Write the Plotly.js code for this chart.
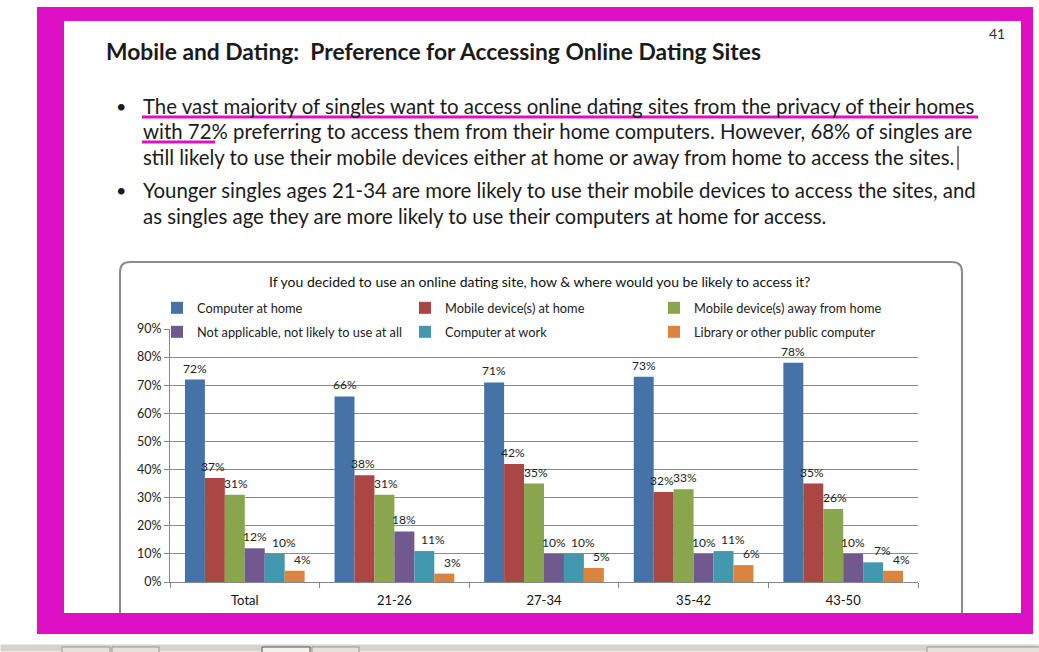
<!DOCTYPE html>
<html>
<head>
<meta charset="utf-8">
<script src="https://cdn.plot.ly/plotly-3.0.1.min.js"></script>
<style>
html,body{margin:0;padding:0;background:#fff;}
#chart{width:1039px;height:652px;}
</style>
</head>
<body>
<div id="chart"></div>
<script>
// ---- data ----
const categories = ['Total', '21-26', '27-34', '35-42', '43-50'];
const seriesNames = [
  'Computer at home',
  'Mobile device(s) at home',
  'Mobile device(s) away from home',
  'Not applicable, not likely to use at all',
  'Computer at work',
  'Library or other public computer'
];
const computerAtHome   = [72, 66, 71, 73, 78];
const mobileAtHome     = [37, 38, 42, 32, 35];
const mobileAwayHome   = [31, 31, 35, 33, 26];
const notApplicable    = [12, 18, 10, 10, 10];
const computerAtWork   = [10, 11, 10, 11, 7];
const libraryPublic    = [4, 3, 5, 6, 4];
const yTickValues = [0, 10, 20, 30, 40, 50, 60, 70, 80, 90];

const seriesValues = [computerAtHome, mobileAtHome, mobileAwayHome, notApplicable, computerAtWork, libraryPublic];
const seriesColors = ['#4572A7', '#AA4643', '#89A54E', '#71588F', '#4198AF', '#DB843D'];
// per-series horizontal nudge of the value labels (style, px)
const seriesLabelNudge = [0, -1.5, 1.5, 0, 9, 8];

// ---- pixel -> paper helpers ----
const W = 1039, H = 652, L = 170, R = 918, T = 329, B = 582;
const px = x => (x - L) / (R - L);
const py = y => (B - y) / (B - T);
const FONT = 'Lato, "Open Sans", sans-serif';
const MAG = '#DE10C6';
const BARGAP = 0.2;

function rect(x0, y0, x1, y1, fill, lineColor, lw, layer) {
  return {type: 'rect', xref: 'paper', yref: 'paper', layer: layer || 'above',
    x0: px(x0), x1: px(x1), y0: py(y1), y1: py(y0),
    fillcolor: fill, line: {width: lw || 0, color: lineColor || fill}};
}
function line(x0, y0, x1, y1, color, w) {
  return {type: 'line', xref: 'paper', yref: 'paper',
    x0: px(x0), x1: px(x1), y0: py(y0), y1: py(y1), line: {color: color, width: w}};
}
function ann(text, x, y, size, opts) {
  opts = opts || {};
  return Object.assign({text: text, xref: 'paper', yref: 'paper', x: px(x), y: py(y),
    xanchor: 'left', yanchor: 'middle', showarrow: false,
    font: {family: FONT, size: size, color: opts.color || '#1b1b1b'}}, opts.extra || {});
}
function roundedPath(x0, y0, x1, y1, r) {
  const P = (x, y) => px(x) + ',' + py(y);
  return 'M' + P(x0 + r, y0) + ' L' + P(x1 - r, y0) + ' Q' + P(x1, y0) + ' ' + P(x1, y0 + r) +
    ' L' + P(x1, y1 - r) + ' Q' + P(x1, y1) + ' ' + P(x1 - r, y1) +
    ' L' + P(x0 + r, y1) + ' Q' + P(x0, y1) + ' ' + P(x0, y1 - r) +
    ' L' + P(x0, y0 + r) + ' Q' + P(x0, y0) + ' ' + P(x0 + r, y0) + ' Z';
}

// ---- traces ----
const legendIds = ['legend', 'legend2', 'legend3', 'legend4', 'legend5', 'legend6'];
const traces = seriesValues.map((vals, i) => ({
  type: 'bar', x: categories, y: vals, name: seriesNames[i],
  marker: {color: seriesColors[i], line: {width: 0}},
  legend: legendIds[i], hoverinfo: 'skip', showlegend: true
}));

const legendPos = [[157, 308], [405, 308], [654, 308], [157, 332], [405, 332], [654, 332]];
const layout = {
  width: W, height: H, showlegend: true,
  margin: {l: L, r: W - R, t: T, b: H - B, pad: 0},
  paper_bgcolor: '#ffffff', plot_bgcolor: '#ffffff',
  font: {family: FONT, size: 12, color: '#222'},
  barmode: 'group', bargap: BARGAP, bargroupgap: 0,
  xaxis: {type: 'category', showgrid: false, showline: true, linecolor: '#868686', linewidth: 1,
    ticks: 'outside', tickson: 'boundaries', ticklen: 5, tickcolor: '#868686', ticklabelstandoff: 6,
    tickfont: {family: FONT, size: 13, color: '#111'}, fixedrange: true},
  yaxis: {range: [0, 90], tickvals: yTickValues, ticktext: yTickValues.map(v => v + '%'),
    showgrid: true, gridcolor: '#8a8a8a', gridwidth: 1, zeroline: false,
    showline: true, linecolor: '#868686', linewidth: 1, ticks: 'outside', ticklen: 5, tickcolor: '#868686',
    tickfont: {family: FONT, size: 12.5, color: '#222'}, fixedrange: true},
  shapes: [],
  annotations: []
};
legendIds.forEach((id, i) => {
  layout[id] = {x: px(legendPos[i][0]), y: py(legendPos[i][1]), xanchor: 'left', yanchor: 'middle',
    orientation: 'h', bgcolor: 'rgba(0,0,0,0)', borderwidth: 0,
    font: {family: FONT, size: 12.8, color: '#222'}, itemclick: false, itemdoubleclick: false};
});

const A = layout.annotations;
const nS = seriesValues.length;
const barPx = (R - L) / categories.length * (1 - BARGAP) / nS;
seriesValues.forEach((vals, i) => {
  vals.forEach((v, j) => {
    A.push({xref: 'x', yref: 'y', x: categories[j], y: v, text: v + '%', showarrow: false,
      xanchor: 'center', yanchor: 'bottom', yshift: 2,
      xshift: (i - (nS - 1) / 2) * barPx + seriesLabelNudge[i],
      font: {family: FONT, size: 12, color: '#222'}});
  });
});

const S = layout.shapes;
S.push({type: 'path', xref: 'paper', yref: 'paper', path: roundedPath(120, 262, 962, 625, 10),
  line: {color: '#8c8c8c', width: 2}, layer: 'below'});
S.push(rect(183, 325, 404, 339, '#ffffff'));
S.push(rect(431, 325, 548, 339, '#ffffff'));
S.push(rect(680, 325, 876, 339, '#ffffff'));
S.push(rect(37, 7, 1033, 21, MAG));
S.push(rect(37, 7, 64, 634, MAG));
S.push(rect(1021, 7, 1033, 634, MAG));
S.push(rect(37, 613, 1033, 634, MAG));
S.push(line(142, 117, 978, 117, MAG, 3));
S.push(line(142, 142, 215, 142, MAG, 3));
S.push(line(958, 146, 958, 170, '#000000', 1));
S.push(rect(0, 644, 1039, 652, '#d6d3cc', '#ffffff', 1));
S.push(rect(62, 647, 110, 653, '#e4e2dc', '#9a978f', 1));
S.push(rect(112, 647, 159, 653, '#e4e2dc', '#9a978f', 1));
S.push(rect(262, 647, 310, 653, '#f2f1ee', '#55534f', 1));
S.push(rect(312, 647, 359, 653, '#e4e2dc', '#9a978f', 1));
S.push(rect(927, 647, 1040, 653, '#e4e2dc', '#9a978f', 1));

A.push(ann('41', 987, 33, 14, {color: '#333'}));
A.push(ann('<b>Mobile and Dating:\u00a0 Preference for Accessing Online Dating Sites</b>', 104, 51, 22.8));
A.push(ann('\u2022', 114, 106, 18));
A.push(ann('\u2022', 114, 190, 18));
const bulletLines = [
  ['The vast majority of singles want to access online dating sites from the privacy of their homes', 106],
  ['with 72% preferring to access them from their home computers. However, 68% of singles are', 131],
  ['still likely to use their mobile devices either at home or away from home to access the sites.', 157],
  ['Younger singles ages 21-34 are more likely to use their mobile devices to access the sites, and', 190],
  ['as singles age they are more likely to use their computers at home for access.', 216]
];
bulletLines.forEach(b => A.push(ann(b[0], 141, b[1], 20.4)));
A.push(ann('If you decided to use an online dating site, how &amp; where would you be likely to access it?', 539, 281, 14,
  {color: '#111', extra: {xanchor: 'center'}}));

Plotly.newPlot('chart', traces, layout, {displayModeBar: false, staticPlot: true});
</script>
</body>
</html>
